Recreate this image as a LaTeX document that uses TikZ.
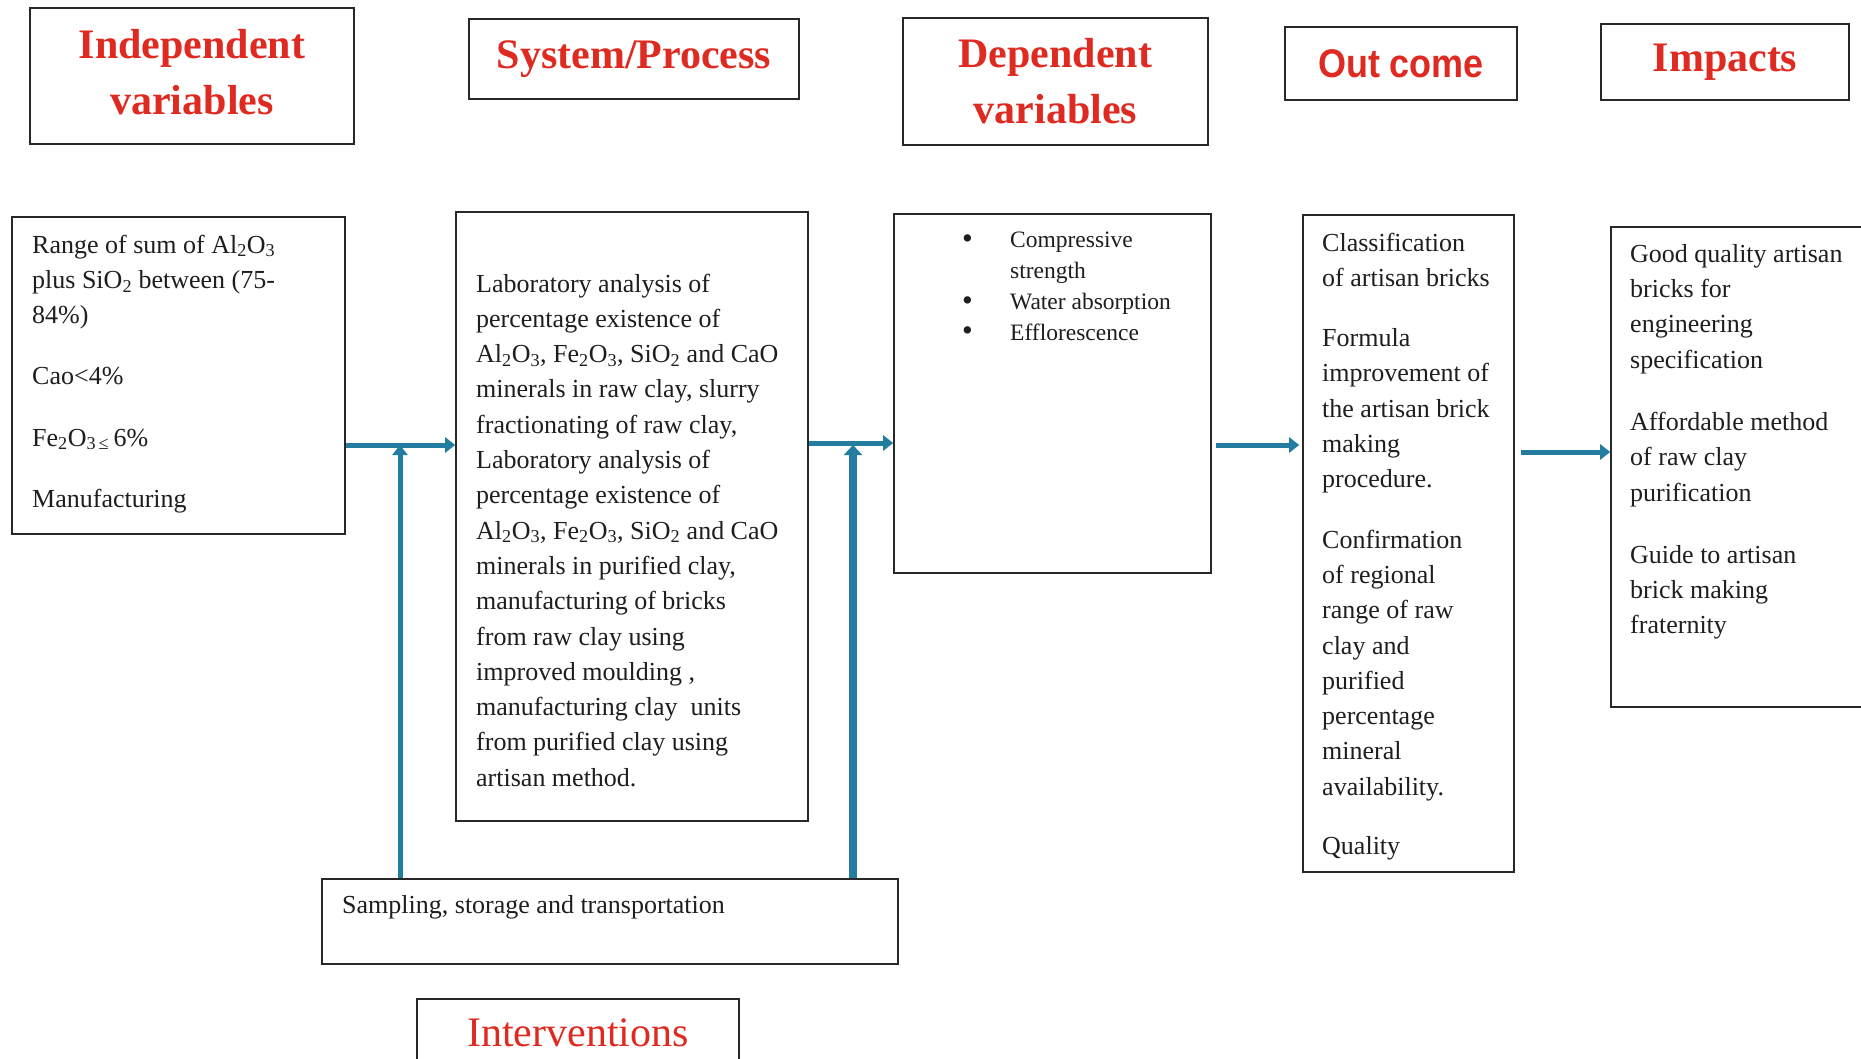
\documentclass[tikz,border=0pt]{standalone}
\usepackage{fontspec}
\setmainfont{Liberation Serif}
\newfontfamily\hdsans{Liberation Sans}
\usetikzlibrary{arrows.meta}
\definecolor{hdred}{RGB}{222,42,32}
\definecolor{arrowblue}{RGB}{35,125,160}
\definecolor{inkline}{RGB}{40,40,40}
\definecolor{textdark}{RGB}{30,30,30}
\newcommand\sbs[1]{\textsubscript{#1}}
\newcommand\bigbul{\makebox[48pt][l]{\smash{\raisebox{-0.5pt}{\scalebox{1.3}{•}}}}}
\begin{document}
\begin{tikzpicture}[x=1pt,y=-1pt,
  box/.style={draw=inkline, line width=1.6pt, inner sep=0pt, rectangle},
  headtext/.style={text=hdred, align=center, font=\bfseries\fontsize{42}{56}\selectfont},
  body/.style={anchor=north west, inner sep=0pt, align=left, text=textdark, font=\fontsize{26}{35.3}\selectfont},
  conn/.style={draw=arrowblue, line width=5pt, -{Triangle[length=10pt,width=15pt]}}
]
\clip (0,0) rectangle (1861,1058);
\fill[white] (0,0) rectangle (1861,1058);

% header boxes
\node[box, minimum width=324pt, minimum height=136pt] (hIV) at (192,76) {};
\node[headtext, inner sep=0pt] (tHIV) at (192,72) {Independent\\variables};
\node[box, headtext, minimum width=330pt, minimum height=80pt] (hSP) at (634,59) {System/Process};
\node[box, headtext, minimum width=305pt, minimum height=127pt] (hDV) at (1055.5,81.5) {Dependent\\variables};
\node[box, headtext, minimum width=232pt, minimum height=73pt, font=\hdsans\bfseries\fontsize{40}{48}\selectfont] (hOC) at (1401,63.5) {\scalebox{0.9}[1]{Out come}};
\node[box, headtext, minimum width=248pt, minimum height=76pt] (hIM) at (1725,62) {Impacts};

% content boxes
\node[box, minimum width=333pt, minimum height=317pt] (bIV) at (178.5,375.5) {};
\node[box, minimum width=352pt, minimum height=609pt] (bSP) at (632,516.5) {};
\node[box, minimum width=317pt, minimum height=359pt] (bDV) at (1052.5,393.5) {};
\node[box, minimum width=211pt, minimum height=657pt] (bOC) at (1408.5,543.5) {};
\node[box, minimum width=289pt, minimum height=480pt] (bIM) at (1755.5,467) {};
\node[box, minimum width=576pt, minimum height=85pt] (bST) at (610,921.5) {};
\node[box, minimum width=322pt, minimum height=90pt] (hIN) at (578,1044) {};
\node[text=hdred, font=\fontsize{42}{50}\selectfont, inner sep=0pt] (tIN) at (578,1033) {Interventions};

% texts
\node[body] (tIV) at (32,234.5) {Range of sum of Al\sbs{2}O\sbs{3}\\plus SiO\sbs{2} between (75-\\84\%)\\[26pt]Cao<4\%\\[26pt]Fe\sbs{2}O\sbs{3\,≤}\,6\%\\[26pt]Manufacturing};

\node[body] (tSP) at (476,273.5) {Laboratory analysis of\\percentage existence of\\Al\sbs{2}O\sbs{3}, Fe\sbs{2}O\sbs{3}, SiO\sbs{2} and CaO\\minerals in raw clay, slurry\\fractionating of raw clay,\\Laboratory analysis of\\percentage existence of\\Al\sbs{2}O\sbs{3}, Fe\sbs{2}O\sbs{3}, SiO\sbs{2} and CaO\\minerals in purified clay,\\manufacturing of bricks\\from raw clay using\\improved moulding ,\\manufacturing clay\ \ units\\from purified clay using\\artisan method.};

\node[body, font=\fontsize{23.5}{30.9}\selectfont] (tDV) at (962,232) {\bigbul Compressive\\\hspace*{48pt}strength\\\bigbul Water absorption\\\bigbul Efflorescence};

\node[body] (tOC) at (1322,232.5) {Classification\\of artisan bricks\\[25pt]Formula\\improvement of\\the artisan brick\\making\\procedure.\\[25pt]Confirmation\\of regional\\range of raw\\clay and\\purified\\percentage\\mineral\\availability.\\[24pt]Quality};

\node[body] (tIM) at (1630,244) {Good quality artisan\\bricks for\\engineering\\specification\\[27pt]Affordable method\\of raw clay\\purification\\[27pt]Guide to artisan\\brick making\\fraternity};

\node[body] (tST) at (342,895) {Sampling, storage and transportation};

% connectors
\coordinate (j1) at (400,445);
\coordinate (j2) at (853,445);
\draw[conn] (bIV.east |- j1) -- (bSP.west |- j1);
\draw[conn] (bSP.east |- 0,443) -- (bDV.west |- 0,443);
\draw[conn] (bST.north -| j1) -- (j1);
\draw[conn, line width=8pt, -{Triangle[length=10pt,width=18pt]}] (bST.north -| j2) -- (j2);
\draw[conn] ([xshift=4pt]bDV.east |- 0,445) -- ([xshift=-3pt]bOC.west |- 0,445);
\draw[conn] ([xshift=6pt]bOC.east |- 0,452) -- (bIM.west |- 0,452);
\end{tikzpicture}
\end{document}
